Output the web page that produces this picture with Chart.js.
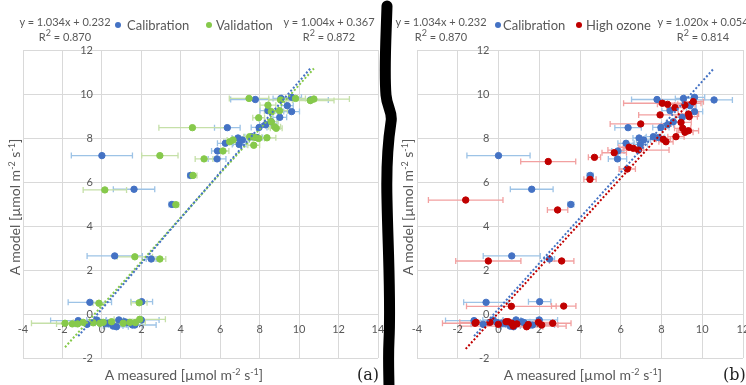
<!DOCTYPE html>
<html>
<head>
<meta charset="utf-8">
<script src="https://cdn.jsdelivr.net/npm/chart.js@4.4.1/dist/chart.umd.min.js"></script>
<style>
  body { margin: 0; width: 746px; height: 385px; overflow: hidden; background: #fff; position: relative; font-family: Lato, "Open Sans", sans-serif; color: #595959; }
  .box { position: absolute; top: 0; height: 385px; }
  .eq { position: absolute; width: 100px; font-size: 11px; line-height: 15px; text-align: center; white-space: nowrap; }
  .leg { position: absolute; font-size: 13px; line-height: 18px; white-space: nowrap; }
  .dot { position: absolute; width: 6px; height: 6px; border-radius: 50%; }
  .xt { position: absolute; width: 300px; text-align: center; font-size: 14px; line-height: 18px; white-space: nowrap; }
  .yt { position: absolute; width: 300px; text-align: center; font-size: 14px; line-height: 18px; white-space: nowrap; transform: rotate(-90deg); }
  sup { font-size: 9px; line-height: 0; vertical-align: 5px; }
  .tag { position: absolute; font-family: "DejaVu Serif", "Liberation Serif", serif; font-size: 16px; color: #222; }
</style>
</head>
<body>
<div class="box" style="left:0;width:385px"><canvas id="chartA"></canvas></div>
<div class="box" style="left:395px;width:351px"><canvas id="chartB"></canvas></div>

<!-- panel (a) texts -->
<div class="eq" style="left:15px;top:14px">y = 1.034x + 0.232<br>R<sup>2</sup> = 0.870</div>
<div class="dot" style="left:115px;top:22px;background:#4472c4"></div>
<div class="leg" style="left:127px;top:16px">Calibration</div>
<div class="dot" style="left:206px;top:22px;background:#86c94b"></div>
<div class="leg" style="left:216px;top:16px">Validation</div>
<div class="eq" style="left:279px;top:14px">y = 1.004x + 0.367<br>R<sup>2</sup> = 0.872</div>
<div class="xt" style="left:34px;top:366px">A measured [µmol m<sup>-2</sup> s<sup>-1</sup>]</div>
<div class="yt" style="left:-135px;top:198px">A model [µmol m<sup>-2</sup> s<sup>-1</sup>]</div>
<div class="tag" style="left:357px;top:365px">(a)</div>

<!-- panel (b) texts -->
<div class="eq" style="left:391px;top:14px">y = 1.034x + 0.232<br>R<sup>2</sup> = 0.870</div>
<div class="dot" style="left:495px;top:22px;background:#4472c4"></div>
<div class="leg" style="left:503px;top:16px">Calibration</div>
<div class="dot" style="left:576px;top:22px;background:#c00000"></div>
<div class="leg" style="left:586px;top:16px">High ozone</div>
<div class="eq" style="left:653px;top:14px">y = 1.020x + 0.054<br>R<sup>2</sup> = 0.814</div>
<div class="xt" style="left:433px;top:366px">A measured [µmol m<sup>-2</sup> s<sup>-1</sup>]</div>
<div class="yt" style="left:258px;top:198px">A model [µmol m<sup>-2</sup> s<sup>-1</sup>]</div>
<div class="tag" style="left:723px;top:365px">(b)</div>

<!-- hand drawn separator -->
<svg style="position:absolute;left:0;top:0" width="746" height="385">
  <path d="M387 6 C386 40 384 70 386 95 C387 108 393 112 391 122 C389 135 386 160 387 200 C388 250 391 300 389 340 C388 360 389 375 389 390"
        fill="none" stroke="#000" stroke-width="11" stroke-linecap="round"/>
</svg>

<script>
// Calibration set (shown on both panels)
const calX = [0.0, 1.63, 3.55, 4.5, 6.36, 5.84, 5.86, 6.26, 6.9, 6.96, 7.12, 7.6, 7.85, 7.97, 8.3, 8.42, 9.02, 9.4, 9.62, 7.78, 9.08, 9.62, 10.58, 8.58,
              0.65, 2.5, -0.61, 2.02,
              -1.2, -0.75, -0.27, -0.09, 0.16, 0.32, 0.57, 0.74, 0.86, 1.14, 1.25, 1.55, 1.67, 2.0];
const calY = [7.2, 5.67, 4.98, 6.3, 8.47, 7.05, 7.41, 7.76, 8.0, 7.71, 7.91, 8.06, 8.02, 8.48, 8.6, 9.24, 8.94, 9.47, 9.2, 9.75, 9.8, 9.85, 9.73, 8.74,
              2.64, 2.5, 0.53, 0.56,
              -0.3, -0.47, -0.27, -0.38, -0.42, -0.42, -0.55, -0.58, -0.27, -0.35, -0.39, -0.5, -0.5, -0.27];
const calErr = [1.55, 1.05, 0.15, 0.15, 0.65, 0.45, 0.3, 0.4, 0.3, 0.35, 0.35, 0.35, 0.3, 0.4, 0.3, 0.4, 0.35, 0.3, 0.4, 1.25, 0.4, 0.5, 0.9, 0.3,
                1.4, 0.25, 1.1, 0.55,
                1.4, 0.6, 0.5, 0.8, 0.5, 0.4, 0.5, 0.6, 1.0, 0.4, 0.6, 1.2, 0.4, 0.9];

// Validation set (panel a)
const valX = [2.94, 4.59, 0.15, 3.75, 4.62, 5.18, 6.14, 6.48, 6.65, 7.49, 7.7, 7.75, 7.95, 8.37, 7.95, 8.59, 8.59, 8.42, 9.01, 8.76, 8.84, 7.46, 9.06, 9.82, 10.57, 10.75,
              1.67, 2.94, -0.15, 1.89,
              -1.87, -1.5, -1.23, -0.95, -0.44, -0.1, 0.07, 0.49, 1.08, 1.42, 1.7, 1.92];
const valY = [7.2, 8.47, 5.64, 4.97, 6.3, 7.05, 7.41, 7.83, 7.91, 8.06, 7.67, 8.03, 7.98, 8.01, 8.92, 8.74, 9.2, 9.49, 9.24, 8.51, 8.44, 9.8, 9.73, 9.8, 9.7, 9.77,
              2.6, 2.5, 0.49, 0.51,
              -0.42, -0.45, -0.45, -0.38, -0.4, -0.42, -0.38, -0.35, -0.42, -0.38, -0.39, -0.24];
const valErr = [0.92, 1.7, 1.1, 0.15, 0.2, 0.45, 0.3, 0.3, 0.3, 0.3, 0.3, 0.35, 0.3, 0.45, 0.3, 0.35, 0.35, 0.4, 0.4, 0.3, 0.3, 1.0, 0.6, 0.5, 1.2, 1.8,
                0.9, 0.3, 0.3, 0.4,
                1.7, 0.8, 0.6, 0.5, 0.5, 0.6, 0.4, 0.5, 0.5, 0.6, 0.5, 1.3];

// High ozone set (panel b)
const ozoX = [2.44, -1.61, 2.9, 4.49, 4.71, 6.32, 5.68, 6.41, 6.62, 6.87, 8.09, 8.22, 8.71, 8.96, 9.04, 9.15, 9.32, 6.98, 7.93, 9.32, 9.36, 8.66, 8.04, 8.3, 9.15, 9.56,
              -0.5, 3.1, 0.63, 3.2,
              -1.15, -1.1, -0.42, -0.01, 0.37, 0.48, 0.65, 0.72, 0.9, 1.38, 1.46, 1.96, 2.12, 2.66];
const ozoY = [6.93, 5.18, 4.73, 6.12, 7.12, 6.59, 7.33, 7.58, 7.53, 7.45, 7.94, 7.83, 8.06, 8.71, 8.44, 8.26, 8.33, 8.64, 9.05, 9.09, 8.97, 9.38, 9.58, 9.53, 9.5, 9.65,
              2.41, 2.41, 0.35, 0.36,
              -0.42, -0.38, -0.38, -0.47, -0.35, -0.35, -0.42, -0.55, -0.45, -0.58, -0.48, -0.38, -0.5, -0.42];
const ozoErr = [1.35, 1.83, 0.5, 0.3, 0.3, 0.4, 0.6, 0.5, 0.5, 1.5, 0.35, 0.35, 0.4, 0.5, 0.4, 0.4, 0.5, 1.5, 1.05, 0.5, 0.4, 0.4, 1.9, 0.5, 0.5, 0.5,
                1.6, 0.6, 2.2, 0.6,
                1.6, 0.8, 0.6, 0.8, 0.5, 0.6, 0.5, 2.6, 0.6, 0.8, 0.6, 0.7, 0.8, 0.9];

// trendlines: [slope, intercept]
const calFit = [1.034, 0.232];
const valFit = [1.004, 0.367];
const ozoFit = [1.020, 0.054];

// tick labels
const xTicksA = [-4, -2, 0, 2, 4, 6, 8, 10, 12, 14];
const xTicksB = [-4, -2, 0, 2, 4, 6, 8, 10, 12];
const yTicks = [-2, 0, 2, 4, 6, 8, 10, 12];

const BLUE = '#4472c4', GREEN = '#86c94b', RED = '#c00000';

function pts(xs, ys) {
    return xs.map((v, i) => ({ x: v, y: ys[i] }));
}

// linear trendline over the x range of the series
function trend(xs, fit) {
    const lo = Math.min(...xs), hi = Math.max(...xs);
    return [{ x: lo, y: fit[0] * lo + fit[1] }, { x: hi, y: fit[0] * hi + fit[1] }];
}

function scatterSet(label, xs, ys, errs, color, errColor, order) {
    return {
        label: label,
        data: pts(xs, ys),
        errors: errs,
        errorColor: errColor,
        backgroundColor: color,
        borderColor: color,
        borderWidth: 1,
        pointRadius: 3.2,
        order: order
    };
}

function trendSet(xs, fit, color) {
    return {
        label: 'trend',
        data: trend(xs, fit),
        showLine: true,
        pointRadius: 0,
        borderColor: color,
        borderWidth: 2,
        borderDash: [2, 2],
        order: 0
    };
}

// horizontal error bars, drawn under the points
const errorBars = {
    id: 'errorBars',
    beforeDatasetsDraw(chart) {
        const { ctx, scales: { x, y } } = chart;
        chart.data.datasets.forEach(ds => {
            if (!ds.errors) return;
            ctx.save();
            ctx.strokeStyle = ds.errorColor;
            ctx.lineWidth = 1.3;
            ds.data.forEach((p, j) => {
                const e = ds.errors[j];
                if (!e) return;
                const py = y.getPixelForValue(p.y);
                const x1 = x.getPixelForValue(p.x - e);
                const x2 = x.getPixelForValue(p.x + e);
                ctx.beginPath();
                ctx.moveTo(x1, py); ctx.lineTo(x2, py);
                ctx.moveTo(x1, py - 3); ctx.lineTo(x1, py + 3);
                ctx.moveTo(x2, py - 3); ctx.lineTo(x2, py + 3);
                ctx.stroke();
            });
            ctx.restore();
        });
    }
};

// tick labels sit on the zero lines (axes cross at the origin)
const crossLabels = {
    id: 'crossLabels',
    beforeDatasetsDraw(chart, args, opts) {
        const { ctx, scales: { x, y } } = chart;
        const x0 = x.getPixelForValue(0), y0 = y.getPixelForValue(0);
        ctx.save();
        ctx.font = '11px Lato';
        ctx.fillStyle = '#595959';
        ctx.textBaseline = 'middle';
        ctx.textAlign = 'center';
        opts.xTicks.forEach(v => ctx.fillText(String(v), x.getPixelForValue(v), y0 + 15));
        ctx.textAlign = 'right';
        yTicks.forEach(v => ctx.fillText(String(v), x0 - 9, y.getPixelForValue(v)));
        ctx.restore();
    }
};

function getOptions(xMax, xTicks, pad) {
    return {
        responsive: true,
        maintainAspectRatio: false,
        animation: false,
        events: [],
        layout: { padding: pad, autoPadding: false },
        plugins: {
            legend: { display: false },
            tooltip: { enabled: false },
            crossLabels: { xTicks: xTicks }
        },
        scales: {
            x: {
                type: 'linear', min: -4, max: xMax,
                ticks: { stepSize: 2, display: false },
                grid: { color: '#d9d9d9', drawTicks: false },
                border: { display: false },
                afterFit(s) { s.height = 0; }
            },
            y: {
                type: 'linear', min: -2, max: 12,
                ticks: { stepSize: 2, display: false },
                grid: { color: '#d9d9d9', drawTicks: false },
                border: { display: false },
                afterFit(s) { s.width = 0; }
            }
        }
    };
}

new Chart(document.getElementById('chartA'), {
    type: 'scatter',
    data: {
        datasets: [
            scatterSet('Calibration', calX, calY, calErr, BLUE, '#9dc3e6', 2),
            scatterSet('Validation', valX, valY, valErr, GREEN, '#c5e0a8', 1),
            trendSet(calX, calFit, BLUE),
            trendSet(valX, valFit, GREEN)
        ]
    },
    options: getOptions(14, xTicksA, { left: 23, right: 7, top: 50, bottom: 27 }),
    plugins: [errorBars, crossLabels]
});

new Chart(document.getElementById('chartB'), {
    type: 'scatter',
    data: {
        datasets: [
            scatterSet('Calibration', calX, calY, calErr, BLUE, '#9dc3e6', 2),
            scatterSet('High ozone', ozoX, ozoY, ozoErr, RED, '#f2a0a0', 1),
            trendSet(calX, calFit, BLUE),
            trendSet(ozoX, ozoFit, RED)
        ]
    },
    options: getOptions(12, xTicksB, { left: 22, right: 3, top: 50, bottom: 27 }),
    plugins: [errorBars, crossLabels]
});
</script>
</body>
</html>
